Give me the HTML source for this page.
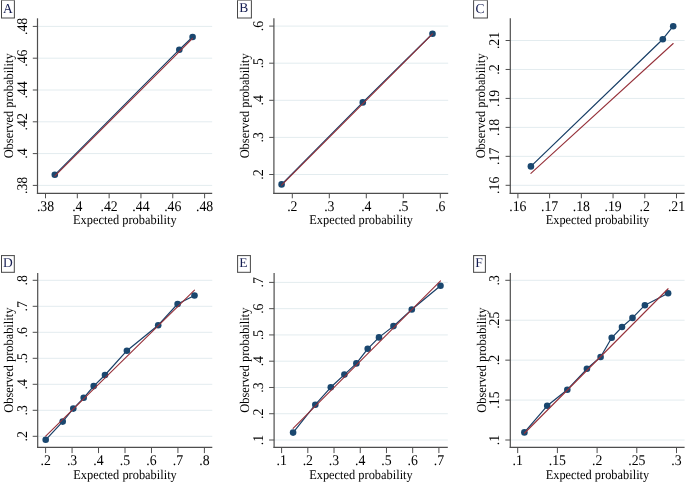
<!DOCTYPE html><html><head><meta charset="utf-8"><style>html,body{margin:0;padding:0;background:#fff;width:685px;height:482px;overflow:hidden}svg{display:block}text{font-family:"Liberation Serif",serif;fill:#000;text-rendering:geometricPrecision}svg{will-change:transform}</style></head><body>
<svg width="685" height="482" viewBox="0 0 685 482">
<rect width="685" height="482" fill="#fff"/>
<g><line x1="37.50" y1="185.40" x2="212.20" y2="185.40" stroke="#e3ecef" stroke-width="1"/><line x1="37.50" y1="153.60" x2="212.20" y2="153.60" stroke="#e3ecef" stroke-width="1"/><line x1="37.50" y1="121.80" x2="212.20" y2="121.80" stroke="#e3ecef" stroke-width="1"/><line x1="37.50" y1="90.00" x2="212.20" y2="90.00" stroke="#e3ecef" stroke-width="1"/><line x1="37.50" y1="58.20" x2="212.20" y2="58.20" stroke="#e3ecef" stroke-width="1"/><line x1="37.50" y1="26.40" x2="212.20" y2="26.40" stroke="#e3ecef" stroke-width="1"/><polyline points="54.80,174.80 179.30,49.70 192.60,37.00" fill="none" stroke="#173e66" stroke-width="1.2" stroke-linejoin="round"/><circle cx="54.80" cy="174.80" r="3.3" fill="#1a476f"/><circle cx="179.30" cy="49.70" r="3.3" fill="#1a476f"/><circle cx="192.60" cy="37.00" r="3.3" fill="#1a476f"/><line x1="54.80" y1="176.11" x2="192.60" y2="38.39" stroke="#96313a" stroke-width="1.1" stroke-linecap="round"/><line x1="37.50" y1="18.30" x2="37.50" y2="194.00" stroke="#4e4e4e" stroke-width="1.2"/><line x1="36.90" y1="193.40" x2="212.20" y2="193.40" stroke="#4e4e4e" stroke-width="1.2"/><line x1="32.80" y1="185.40" x2="37.50" y2="185.40" stroke="#4e4e4e" stroke-width="1"/><text transform="translate(26.50 185.40) rotate(-90) scale(0.932 1)" text-anchor="middle" font-size="14.8">.38</text><line x1="32.80" y1="153.60" x2="37.50" y2="153.60" stroke="#4e4e4e" stroke-width="1"/><text transform="translate(26.50 153.60) rotate(-90) scale(0.932 1)" text-anchor="middle" font-size="14.8">.4</text><line x1="32.80" y1="121.80" x2="37.50" y2="121.80" stroke="#4e4e4e" stroke-width="1"/><text transform="translate(26.50 121.80) rotate(-90) scale(0.932 1)" text-anchor="middle" font-size="14.8">.42</text><line x1="32.80" y1="90.00" x2="37.50" y2="90.00" stroke="#4e4e4e" stroke-width="1"/><text transform="translate(26.50 90.00) rotate(-90) scale(0.932 1)" text-anchor="middle" font-size="14.8">.44</text><line x1="32.80" y1="58.20" x2="37.50" y2="58.20" stroke="#4e4e4e" stroke-width="1"/><text transform="translate(26.50 58.20) rotate(-90) scale(0.932 1)" text-anchor="middle" font-size="14.8">.46</text><line x1="32.80" y1="26.40" x2="37.50" y2="26.40" stroke="#4e4e4e" stroke-width="1"/><text transform="translate(26.50 26.40) rotate(-90) scale(0.932 1)" text-anchor="middle" font-size="14.8">.48</text><line x1="45.50" y1="193.40" x2="45.50" y2="198.30" stroke="#4e4e4e" stroke-width="1"/><text transform="translate(45.50 210.50) scale(0.932 1)" text-anchor="middle" font-size="14.8">.38</text><line x1="77.32" y1="193.40" x2="77.32" y2="198.30" stroke="#4e4e4e" stroke-width="1"/><text transform="translate(77.32 210.50) scale(0.932 1)" text-anchor="middle" font-size="14.8">.4</text><line x1="109.14" y1="193.40" x2="109.14" y2="198.30" stroke="#4e4e4e" stroke-width="1"/><text transform="translate(109.14 210.50) scale(0.932 1)" text-anchor="middle" font-size="14.8">.42</text><line x1="140.96" y1="193.40" x2="140.96" y2="198.30" stroke="#4e4e4e" stroke-width="1"/><text transform="translate(140.96 210.50) scale(0.932 1)" text-anchor="middle" font-size="14.8">.44</text><line x1="172.78" y1="193.40" x2="172.78" y2="198.30" stroke="#4e4e4e" stroke-width="1"/><text transform="translate(172.78 210.50) scale(0.932 1)" text-anchor="middle" font-size="14.8">.46</text><line x1="204.60" y1="193.40" x2="204.60" y2="198.30" stroke="#4e4e4e" stroke-width="1"/><text transform="translate(204.60 210.50) scale(0.932 1)" text-anchor="middle" font-size="14.8">.48</text><text transform="translate(124.85 224.40) scale(0.932 1)" text-anchor="middle" font-size="13.3">Expected probability</text><text transform="translate(12.60 105.85) rotate(-90) scale(0.932 1)" text-anchor="middle" font-size="13.3">Observed probability</text><line x1="1.00" y1="0.50" x2="14.90" y2="0.50" stroke="#9a9a9a" stroke-width="1"/><line x1="1.00" y1="18.00" x2="14.90" y2="18.00" stroke="#474747" stroke-width="1"/><line x1="1.50" y1="0.50" x2="1.50" y2="18.00" stroke="#474747" stroke-width="1"/><line x1="14.40" y1="0.50" x2="14.40" y2="18.00" stroke="#474747" stroke-width="1"/><text x="7.95" y="12.60" text-anchor="middle" font-size="13.5" style="fill:#161e52">A</text></g>
<g><line x1="273.90" y1="174.50" x2="448.20" y2="174.50" stroke="#e3ecef" stroke-width="1"/><line x1="273.90" y1="137.40" x2="448.20" y2="137.40" stroke="#e3ecef" stroke-width="1"/><line x1="273.90" y1="100.30" x2="448.20" y2="100.30" stroke="#e3ecef" stroke-width="1"/><line x1="273.90" y1="63.20" x2="448.20" y2="63.20" stroke="#e3ecef" stroke-width="1"/><line x1="273.90" y1="26.10" x2="448.20" y2="26.10" stroke="#e3ecef" stroke-width="1"/><polyline points="281.60,184.40 362.80,102.40 432.50,33.70" fill="none" stroke="#173e66" stroke-width="1.2" stroke-linejoin="round"/><circle cx="281.60" cy="184.40" r="3.3" fill="#1a476f"/><circle cx="362.80" cy="102.40" r="3.3" fill="#1a476f"/><circle cx="432.50" cy="33.70" r="3.3" fill="#1a476f"/><line x1="281.60" y1="185.23" x2="432.50" y2="33.92" stroke="#96313a" stroke-width="1.1" stroke-linecap="round"/><line x1="273.90" y1="18.30" x2="273.90" y2="194.00" stroke="#4e4e4e" stroke-width="1.2"/><line x1="273.30" y1="193.40" x2="448.20" y2="193.40" stroke="#4e4e4e" stroke-width="1.2"/><line x1="269.20" y1="174.50" x2="273.90" y2="174.50" stroke="#4e4e4e" stroke-width="1"/><text transform="translate(262.90 174.50) rotate(-90) scale(0.932 1)" text-anchor="middle" font-size="14.8">.2</text><line x1="269.20" y1="137.40" x2="273.90" y2="137.40" stroke="#4e4e4e" stroke-width="1"/><text transform="translate(262.90 137.40) rotate(-90) scale(0.932 1)" text-anchor="middle" font-size="14.8">.3</text><line x1="269.20" y1="100.30" x2="273.90" y2="100.30" stroke="#4e4e4e" stroke-width="1"/><text transform="translate(262.90 100.30) rotate(-90) scale(0.932 1)" text-anchor="middle" font-size="14.8">.4</text><line x1="269.20" y1="63.20" x2="273.90" y2="63.20" stroke="#4e4e4e" stroke-width="1"/><text transform="translate(262.90 63.20) rotate(-90) scale(0.932 1)" text-anchor="middle" font-size="14.8">.5</text><line x1="269.20" y1="26.10" x2="273.90" y2="26.10" stroke="#4e4e4e" stroke-width="1"/><text transform="translate(262.90 26.10) rotate(-90) scale(0.932 1)" text-anchor="middle" font-size="14.8">.6</text><line x1="292.30" y1="193.40" x2="292.30" y2="198.30" stroke="#4e4e4e" stroke-width="1"/><text transform="translate(292.30 210.50) scale(0.932 1)" text-anchor="middle" font-size="14.8">.2</text><line x1="329.30" y1="193.40" x2="329.30" y2="198.30" stroke="#4e4e4e" stroke-width="1"/><text transform="translate(329.30 210.50) scale(0.932 1)" text-anchor="middle" font-size="14.8">.3</text><line x1="366.30" y1="193.40" x2="366.30" y2="198.30" stroke="#4e4e4e" stroke-width="1"/><text transform="translate(366.30 210.50) scale(0.932 1)" text-anchor="middle" font-size="14.8">.4</text><line x1="403.30" y1="193.40" x2="403.30" y2="198.30" stroke="#4e4e4e" stroke-width="1"/><text transform="translate(403.30 210.50) scale(0.932 1)" text-anchor="middle" font-size="14.8">.5</text><line x1="440.30" y1="193.40" x2="440.30" y2="198.30" stroke="#4e4e4e" stroke-width="1"/><text transform="translate(440.30 210.50) scale(0.932 1)" text-anchor="middle" font-size="14.8">.6</text><text transform="translate(361.05 224.40) scale(0.932 1)" text-anchor="middle" font-size="13.3">Expected probability</text><text transform="translate(249.00 105.85) rotate(-90) scale(0.932 1)" text-anchor="middle" font-size="13.3">Observed probability</text><line x1="237.00" y1="0.50" x2="251.90" y2="0.50" stroke="#9a9a9a" stroke-width="1"/><line x1="237.00" y1="18.00" x2="251.90" y2="18.00" stroke="#474747" stroke-width="1"/><line x1="237.50" y1="0.50" x2="237.50" y2="18.00" stroke="#474747" stroke-width="1"/><line x1="251.40" y1="0.50" x2="251.40" y2="18.00" stroke="#474747" stroke-width="1"/><text x="243.85" y="12.20" text-anchor="middle" font-size="13.5" style="fill:#161e52">B</text></g>
<g><line x1="510.30" y1="185.30" x2="684.60" y2="185.30" stroke="#e3ecef" stroke-width="1"/><line x1="510.30" y1="156.34" x2="684.60" y2="156.34" stroke="#e3ecef" stroke-width="1"/><line x1="510.30" y1="127.38" x2="684.60" y2="127.38" stroke="#e3ecef" stroke-width="1"/><line x1="510.30" y1="98.42" x2="684.60" y2="98.42" stroke="#e3ecef" stroke-width="1"/><line x1="510.30" y1="69.46" x2="684.60" y2="69.46" stroke="#e3ecef" stroke-width="1"/><line x1="510.30" y1="40.50" x2="684.60" y2="40.50" stroke="#e3ecef" stroke-width="1"/><polyline points="530.90,166.40 662.80,39.20 673.20,26.20" fill="none" stroke="#173e66" stroke-width="1.2" stroke-linejoin="round"/><circle cx="530.90" cy="166.40" r="3.3" fill="#1a476f"/><circle cx="662.80" cy="39.20" r="3.3" fill="#1a476f"/><circle cx="673.20" cy="26.20" r="3.3" fill="#1a476f"/><line x1="530.90" y1="173.43" x2="673.20" y2="43.51" stroke="#96313a" stroke-width="1.1" stroke-linecap="round"/><line x1="510.30" y1="18.30" x2="510.30" y2="194.00" stroke="#4e4e4e" stroke-width="1.2"/><line x1="509.70" y1="193.40" x2="684.60" y2="193.40" stroke="#4e4e4e" stroke-width="1.2"/><line x1="505.60" y1="185.30" x2="510.30" y2="185.30" stroke="#4e4e4e" stroke-width="1"/><text transform="translate(499.30 185.30) rotate(-90) scale(0.932 1)" text-anchor="middle" font-size="14.8">.16</text><line x1="505.60" y1="156.34" x2="510.30" y2="156.34" stroke="#4e4e4e" stroke-width="1"/><text transform="translate(499.30 156.34) rotate(-90) scale(0.932 1)" text-anchor="middle" font-size="14.8">.17</text><line x1="505.60" y1="127.38" x2="510.30" y2="127.38" stroke="#4e4e4e" stroke-width="1"/><text transform="translate(499.30 127.38) rotate(-90) scale(0.932 1)" text-anchor="middle" font-size="14.8">.18</text><line x1="505.60" y1="98.42" x2="510.30" y2="98.42" stroke="#4e4e4e" stroke-width="1"/><text transform="translate(499.30 98.42) rotate(-90) scale(0.932 1)" text-anchor="middle" font-size="14.8">.19</text><line x1="505.60" y1="69.46" x2="510.30" y2="69.46" stroke="#4e4e4e" stroke-width="1"/><text transform="translate(499.30 69.46) rotate(-90) scale(0.932 1)" text-anchor="middle" font-size="14.8">.2</text><line x1="505.60" y1="40.50" x2="510.30" y2="40.50" stroke="#4e4e4e" stroke-width="1"/><text transform="translate(499.30 40.50) rotate(-90) scale(0.932 1)" text-anchor="middle" font-size="14.8">.21</text><line x1="517.90" y1="193.40" x2="517.90" y2="198.30" stroke="#4e4e4e" stroke-width="1"/><text transform="translate(517.90 210.50) scale(0.932 1)" text-anchor="middle" font-size="14.8">.16</text><line x1="549.62" y1="193.40" x2="549.62" y2="198.30" stroke="#4e4e4e" stroke-width="1"/><text transform="translate(549.62 210.50) scale(0.932 1)" text-anchor="middle" font-size="14.8">.17</text><line x1="581.34" y1="193.40" x2="581.34" y2="198.30" stroke="#4e4e4e" stroke-width="1"/><text transform="translate(581.34 210.50) scale(0.932 1)" text-anchor="middle" font-size="14.8">.18</text><line x1="613.06" y1="193.40" x2="613.06" y2="198.30" stroke="#4e4e4e" stroke-width="1"/><text transform="translate(613.06 210.50) scale(0.932 1)" text-anchor="middle" font-size="14.8">.19</text><line x1="644.78" y1="193.40" x2="644.78" y2="198.30" stroke="#4e4e4e" stroke-width="1"/><text transform="translate(644.78 210.50) scale(0.932 1)" text-anchor="middle" font-size="14.8">.2</text><line x1="676.50" y1="193.40" x2="676.50" y2="198.30" stroke="#4e4e4e" stroke-width="1"/><text transform="translate(676.50 210.50) scale(0.932 1)" text-anchor="middle" font-size="14.8">.21</text><text transform="translate(597.45 224.40) scale(0.932 1)" text-anchor="middle" font-size="13.3">Expected probability</text><text transform="translate(485.40 105.85) rotate(-90) scale(0.932 1)" text-anchor="middle" font-size="13.3">Observed probability</text><line x1="473.10" y1="0.50" x2="487.90" y2="0.50" stroke="#9a9a9a" stroke-width="1"/><line x1="473.10" y1="18.00" x2="487.90" y2="18.00" stroke="#474747" stroke-width="1"/><line x1="473.60" y1="0.50" x2="473.60" y2="18.00" stroke="#474747" stroke-width="1"/><line x1="487.40" y1="0.50" x2="487.40" y2="18.00" stroke="#474747" stroke-width="1"/><text x="479.90" y="12.70" text-anchor="middle" font-size="13.5" style="fill:#161e52">C</text></g>
<g><line x1="37.70" y1="436.30" x2="212.30" y2="436.30" stroke="#e3ecef" stroke-width="1"/><line x1="37.70" y1="410.30" x2="212.30" y2="410.30" stroke="#e3ecef" stroke-width="1"/><line x1="37.70" y1="384.30" x2="212.30" y2="384.30" stroke="#e3ecef" stroke-width="1"/><line x1="37.70" y1="358.30" x2="212.30" y2="358.30" stroke="#e3ecef" stroke-width="1"/><line x1="37.70" y1="332.30" x2="212.30" y2="332.30" stroke="#e3ecef" stroke-width="1"/><line x1="37.70" y1="306.30" x2="212.30" y2="306.30" stroke="#e3ecef" stroke-width="1"/><line x1="37.70" y1="280.30" x2="212.30" y2="280.30" stroke="#e3ecef" stroke-width="1"/><polyline points="45.70,439.80 62.70,421.60 73.30,408.60 83.70,397.80 93.70,386.10 105.00,375.00 126.90,350.70 158.20,325.20 177.60,304.00 194.50,295.50" fill="none" stroke="#173e66" stroke-width="1.2" stroke-linejoin="round"/><circle cx="45.70" cy="439.80" r="3.3" fill="#1a476f"/><circle cx="62.70" cy="421.60" r="3.3" fill="#1a476f"/><circle cx="73.30" cy="408.60" r="3.3" fill="#1a476f"/><circle cx="83.70" cy="397.80" r="3.3" fill="#1a476f"/><circle cx="93.70" cy="386.10" r="3.3" fill="#1a476f"/><circle cx="105.00" cy="375.00" r="3.3" fill="#1a476f"/><circle cx="126.90" cy="350.70" r="3.3" fill="#1a476f"/><circle cx="158.20" cy="325.20" r="3.3" fill="#1a476f"/><circle cx="177.60" cy="304.00" r="3.3" fill="#1a476f"/><circle cx="194.50" cy="295.50" r="3.3" fill="#1a476f"/><line x1="45.70" y1="436.20" x2="194.50" y2="290.03" stroke="#96313a" stroke-width="1.1" stroke-linecap="round"/><line x1="37.70" y1="273.00" x2="37.70" y2="447.90" stroke="#4e4e4e" stroke-width="1.2"/><line x1="37.10" y1="447.30" x2="212.30" y2="447.30" stroke="#4e4e4e" stroke-width="1.2"/><line x1="32.70" y1="436.30" x2="37.70" y2="436.30" stroke="#4e4e4e" stroke-width="1"/><text transform="translate(26.70 436.30) rotate(-90) scale(0.932 1)" text-anchor="middle" font-size="14.8">.2</text><line x1="32.70" y1="410.30" x2="37.70" y2="410.30" stroke="#4e4e4e" stroke-width="1"/><text transform="translate(26.70 410.30) rotate(-90) scale(0.932 1)" text-anchor="middle" font-size="14.8">.3</text><line x1="32.70" y1="384.30" x2="37.70" y2="384.30" stroke="#4e4e4e" stroke-width="1"/><text transform="translate(26.70 384.30) rotate(-90) scale(0.932 1)" text-anchor="middle" font-size="14.8">.4</text><line x1="32.70" y1="358.30" x2="37.70" y2="358.30" stroke="#4e4e4e" stroke-width="1"/><text transform="translate(26.70 358.30) rotate(-90) scale(0.932 1)" text-anchor="middle" font-size="14.8">.5</text><line x1="32.70" y1="332.30" x2="37.70" y2="332.30" stroke="#4e4e4e" stroke-width="1"/><text transform="translate(26.70 332.30) rotate(-90) scale(0.932 1)" text-anchor="middle" font-size="14.8">.6</text><line x1="32.70" y1="306.30" x2="37.70" y2="306.30" stroke="#4e4e4e" stroke-width="1"/><text transform="translate(26.70 306.30) rotate(-90) scale(0.932 1)" text-anchor="middle" font-size="14.8">.7</text><line x1="32.70" y1="280.30" x2="37.70" y2="280.30" stroke="#4e4e4e" stroke-width="1"/><text transform="translate(26.70 280.30) rotate(-90) scale(0.932 1)" text-anchor="middle" font-size="14.8">.8</text><line x1="45.60" y1="447.30" x2="45.60" y2="453.10" stroke="#4e4e4e" stroke-width="1"/><text transform="translate(45.60 465.20) scale(0.932 1)" text-anchor="middle" font-size="14.8">.2</text><line x1="72.07" y1="447.30" x2="72.07" y2="453.10" stroke="#4e4e4e" stroke-width="1"/><text transform="translate(72.07 465.20) scale(0.932 1)" text-anchor="middle" font-size="14.8">.3</text><line x1="98.53" y1="447.30" x2="98.53" y2="453.10" stroke="#4e4e4e" stroke-width="1"/><text transform="translate(98.53 465.20) scale(0.932 1)" text-anchor="middle" font-size="14.8">.4</text><line x1="125.00" y1="447.30" x2="125.00" y2="453.10" stroke="#4e4e4e" stroke-width="1"/><text transform="translate(125.00 465.20) scale(0.932 1)" text-anchor="middle" font-size="14.8">.5</text><line x1="151.47" y1="447.30" x2="151.47" y2="453.10" stroke="#4e4e4e" stroke-width="1"/><text transform="translate(151.47 465.20) scale(0.932 1)" text-anchor="middle" font-size="14.8">.6</text><line x1="177.93" y1="447.30" x2="177.93" y2="453.10" stroke="#4e4e4e" stroke-width="1"/><text transform="translate(177.93 465.20) scale(0.932 1)" text-anchor="middle" font-size="14.8">.7</text><line x1="204.40" y1="447.30" x2="204.40" y2="453.10" stroke="#4e4e4e" stroke-width="1"/><text transform="translate(204.40 465.20) scale(0.932 1)" text-anchor="middle" font-size="14.8">.8</text><text transform="translate(125.00 478.80) scale(0.932 1)" text-anchor="middle" font-size="13.3">Expected probability</text><text transform="translate(12.90 360.15) rotate(-90) scale(0.932 1)" text-anchor="middle" font-size="13.3">Observed probability</text><line x1="1.00" y1="255.60" x2="14.80" y2="255.60" stroke="#474747" stroke-width="1"/><line x1="1.00" y1="272.30" x2="14.80" y2="272.30" stroke="#474747" stroke-width="1"/><line x1="1.50" y1="255.60" x2="1.50" y2="272.30" stroke="#474747" stroke-width="1"/><line x1="14.30" y1="255.60" x2="14.30" y2="272.30" stroke="#474747" stroke-width="1"/><text x="7.90" y="266.60" text-anchor="middle" font-size="13.5" style="fill:#161e52">D</text></g>
<g><line x1="274.10" y1="440.00" x2="447.80" y2="440.00" stroke="#e3ecef" stroke-width="1"/><line x1="274.10" y1="413.73" x2="447.80" y2="413.73" stroke="#e3ecef" stroke-width="1"/><line x1="274.10" y1="387.47" x2="447.80" y2="387.47" stroke="#e3ecef" stroke-width="1"/><line x1="274.10" y1="361.20" x2="447.80" y2="361.20" stroke="#e3ecef" stroke-width="1"/><line x1="274.10" y1="334.93" x2="447.80" y2="334.93" stroke="#e3ecef" stroke-width="1"/><line x1="274.10" y1="308.67" x2="447.80" y2="308.67" stroke="#e3ecef" stroke-width="1"/><line x1="274.10" y1="282.40" x2="447.80" y2="282.40" stroke="#e3ecef" stroke-width="1"/><polyline points="293.10,432.60 315.30,404.70 330.80,387.30 344.40,374.60 356.40,363.40 367.70,348.80 379.00,337.40 393.50,326.10 411.80,309.50 440.50,285.80" fill="none" stroke="#173e66" stroke-width="1.2" stroke-linejoin="round"/><circle cx="293.10" cy="432.60" r="3.3" fill="#1a476f"/><circle cx="315.30" cy="404.70" r="3.3" fill="#1a476f"/><circle cx="330.80" cy="387.30" r="3.3" fill="#1a476f"/><circle cx="344.40" cy="374.60" r="3.3" fill="#1a476f"/><circle cx="356.40" cy="363.40" r="3.3" fill="#1a476f"/><circle cx="367.70" cy="348.80" r="3.3" fill="#1a476f"/><circle cx="379.00" cy="337.40" r="3.3" fill="#1a476f"/><circle cx="393.50" cy="326.10" r="3.3" fill="#1a476f"/><circle cx="411.80" cy="309.50" r="3.3" fill="#1a476f"/><circle cx="440.50" cy="285.80" r="3.3" fill="#1a476f"/><line x1="293.10" y1="428.48" x2="440.50" y2="280.80" stroke="#96313a" stroke-width="1.1" stroke-linecap="round"/><line x1="274.10" y1="273.00" x2="274.10" y2="447.90" stroke="#4e4e4e" stroke-width="1.2"/><line x1="273.50" y1="447.30" x2="447.80" y2="447.30" stroke="#4e4e4e" stroke-width="1.2"/><line x1="269.10" y1="440.00" x2="274.10" y2="440.00" stroke="#4e4e4e" stroke-width="1"/><text transform="translate(263.10 440.00) rotate(-90) scale(0.932 1)" text-anchor="middle" font-size="14.8">.1</text><line x1="269.10" y1="413.73" x2="274.10" y2="413.73" stroke="#4e4e4e" stroke-width="1"/><text transform="translate(263.10 413.73) rotate(-90) scale(0.932 1)" text-anchor="middle" font-size="14.8">.2</text><line x1="269.10" y1="387.47" x2="274.10" y2="387.47" stroke="#4e4e4e" stroke-width="1"/><text transform="translate(263.10 387.47) rotate(-90) scale(0.932 1)" text-anchor="middle" font-size="14.8">.3</text><line x1="269.10" y1="361.20" x2="274.10" y2="361.20" stroke="#4e4e4e" stroke-width="1"/><text transform="translate(263.10 361.20) rotate(-90) scale(0.932 1)" text-anchor="middle" font-size="14.8">.4</text><line x1="269.10" y1="334.93" x2="274.10" y2="334.93" stroke="#4e4e4e" stroke-width="1"/><text transform="translate(263.10 334.93) rotate(-90) scale(0.932 1)" text-anchor="middle" font-size="14.8">.5</text><line x1="269.10" y1="308.67" x2="274.10" y2="308.67" stroke="#4e4e4e" stroke-width="1"/><text transform="translate(263.10 308.67) rotate(-90) scale(0.932 1)" text-anchor="middle" font-size="14.8">.6</text><line x1="269.10" y1="282.40" x2="274.10" y2="282.40" stroke="#4e4e4e" stroke-width="1"/><text transform="translate(263.10 282.40) rotate(-90) scale(0.932 1)" text-anchor="middle" font-size="14.8">.7</text><line x1="281.60" y1="447.30" x2="281.60" y2="453.10" stroke="#4e4e4e" stroke-width="1"/><text transform="translate(281.60 465.20) scale(0.932 1)" text-anchor="middle" font-size="14.8">.1</text><line x1="307.82" y1="447.30" x2="307.82" y2="453.10" stroke="#4e4e4e" stroke-width="1"/><text transform="translate(307.82 465.20) scale(0.932 1)" text-anchor="middle" font-size="14.8">.2</text><line x1="334.03" y1="447.30" x2="334.03" y2="453.10" stroke="#4e4e4e" stroke-width="1"/><text transform="translate(334.03 465.20) scale(0.932 1)" text-anchor="middle" font-size="14.8">.3</text><line x1="360.25" y1="447.30" x2="360.25" y2="453.10" stroke="#4e4e4e" stroke-width="1"/><text transform="translate(360.25 465.20) scale(0.932 1)" text-anchor="middle" font-size="14.8">.4</text><line x1="386.47" y1="447.30" x2="386.47" y2="453.10" stroke="#4e4e4e" stroke-width="1"/><text transform="translate(386.47 465.20) scale(0.932 1)" text-anchor="middle" font-size="14.8">.5</text><line x1="412.68" y1="447.30" x2="412.68" y2="453.10" stroke="#4e4e4e" stroke-width="1"/><text transform="translate(412.68 465.20) scale(0.932 1)" text-anchor="middle" font-size="14.8">.6</text><line x1="438.90" y1="447.30" x2="438.90" y2="453.10" stroke="#4e4e4e" stroke-width="1"/><text transform="translate(438.90 465.20) scale(0.932 1)" text-anchor="middle" font-size="14.8">.7</text><text transform="translate(360.95 478.80) scale(0.932 1)" text-anchor="middle" font-size="13.3">Expected probability</text><text transform="translate(249.30 360.15) rotate(-90) scale(0.932 1)" text-anchor="middle" font-size="13.3">Observed probability</text><line x1="237.10" y1="255.60" x2="250.90" y2="255.60" stroke="#474747" stroke-width="1"/><line x1="237.10" y1="272.30" x2="250.90" y2="272.30" stroke="#474747" stroke-width="1"/><line x1="237.60" y1="255.60" x2="237.60" y2="272.30" stroke="#474747" stroke-width="1"/><line x1="250.40" y1="255.60" x2="250.40" y2="272.30" stroke="#474747" stroke-width="1"/><text x="243.30" y="266.50" text-anchor="middle" font-size="13.5" style="fill:#161e52">E</text></g>
<g><line x1="510.30" y1="440.00" x2="684.60" y2="440.00" stroke="#e3ecef" stroke-width="1"/><line x1="510.30" y1="400.07" x2="684.60" y2="400.07" stroke="#e3ecef" stroke-width="1"/><line x1="510.30" y1="360.15" x2="684.60" y2="360.15" stroke="#e3ecef" stroke-width="1"/><line x1="510.30" y1="320.23" x2="684.60" y2="320.23" stroke="#e3ecef" stroke-width="1"/><line x1="510.30" y1="280.30" x2="684.60" y2="280.30" stroke="#e3ecef" stroke-width="1"/><polyline points="524.40,432.40 547.20,405.80 567.30,389.70 586.90,368.80 600.60,357.00 611.70,337.80 622.00,327.00 632.50,317.90 644.90,305.20 668.10,293.20" fill="none" stroke="#173e66" stroke-width="1.2" stroke-linejoin="round"/><circle cx="524.40" cy="432.40" r="3.3" fill="#1a476f"/><circle cx="547.20" cy="405.80" r="3.3" fill="#1a476f"/><circle cx="567.30" cy="389.70" r="3.3" fill="#1a476f"/><circle cx="586.90" cy="368.80" r="3.3" fill="#1a476f"/><circle cx="600.60" cy="357.00" r="3.3" fill="#1a476f"/><circle cx="611.70" cy="337.80" r="3.3" fill="#1a476f"/><circle cx="622.00" cy="327.00" r="3.3" fill="#1a476f"/><circle cx="632.50" cy="317.90" r="3.3" fill="#1a476f"/><circle cx="644.90" cy="305.20" r="3.3" fill="#1a476f"/><circle cx="668.10" cy="293.20" r="3.3" fill="#1a476f"/><line x1="524.40" y1="433.26" x2="668.10" y2="288.75" stroke="#96313a" stroke-width="1.1" stroke-linecap="round"/><line x1="510.30" y1="273.00" x2="510.30" y2="447.90" stroke="#4e4e4e" stroke-width="1.2"/><line x1="509.70" y1="447.30" x2="684.60" y2="447.30" stroke="#4e4e4e" stroke-width="1.2"/><line x1="505.30" y1="440.00" x2="510.30" y2="440.00" stroke="#4e4e4e" stroke-width="1"/><text transform="translate(499.30 440.00) rotate(-90) scale(0.932 1)" text-anchor="middle" font-size="14.8">.1</text><line x1="505.30" y1="400.07" x2="510.30" y2="400.07" stroke="#4e4e4e" stroke-width="1"/><text transform="translate(499.30 400.07) rotate(-90) scale(0.932 1)" text-anchor="middle" font-size="14.8">.15</text><line x1="505.30" y1="360.15" x2="510.30" y2="360.15" stroke="#4e4e4e" stroke-width="1"/><text transform="translate(499.30 360.15) rotate(-90) scale(0.932 1)" text-anchor="middle" font-size="14.8">.2</text><line x1="505.30" y1="320.23" x2="510.30" y2="320.23" stroke="#4e4e4e" stroke-width="1"/><text transform="translate(499.30 320.23) rotate(-90) scale(0.932 1)" text-anchor="middle" font-size="14.8">.25</text><line x1="505.30" y1="280.30" x2="510.30" y2="280.30" stroke="#4e4e4e" stroke-width="1"/><text transform="translate(499.30 280.30) rotate(-90) scale(0.932 1)" text-anchor="middle" font-size="14.8">.3</text><line x1="517.70" y1="447.30" x2="517.70" y2="453.10" stroke="#4e4e4e" stroke-width="1"/><text transform="translate(517.70 465.20) scale(0.932 1)" text-anchor="middle" font-size="14.8">.1</text><line x1="557.40" y1="447.30" x2="557.40" y2="453.10" stroke="#4e4e4e" stroke-width="1"/><text transform="translate(557.40 465.20) scale(0.932 1)" text-anchor="middle" font-size="14.8">.15</text><line x1="597.10" y1="447.30" x2="597.10" y2="453.10" stroke="#4e4e4e" stroke-width="1"/><text transform="translate(597.10 465.20) scale(0.932 1)" text-anchor="middle" font-size="14.8">.2</text><line x1="636.80" y1="447.30" x2="636.80" y2="453.10" stroke="#4e4e4e" stroke-width="1"/><text transform="translate(636.80 465.20) scale(0.932 1)" text-anchor="middle" font-size="14.8">.25</text><line x1="676.50" y1="447.30" x2="676.50" y2="453.10" stroke="#4e4e4e" stroke-width="1"/><text transform="translate(676.50 465.20) scale(0.932 1)" text-anchor="middle" font-size="14.8">.3</text><text transform="translate(597.45 478.80) scale(0.932 1)" text-anchor="middle" font-size="13.3">Expected probability</text><text transform="translate(485.50 360.15) rotate(-90) scale(0.932 1)" text-anchor="middle" font-size="13.3">Observed probability</text><line x1="473.10" y1="255.60" x2="485.90" y2="255.60" stroke="#474747" stroke-width="1"/><line x1="473.10" y1="272.30" x2="485.90" y2="272.30" stroke="#474747" stroke-width="1"/><line x1="473.60" y1="255.60" x2="473.60" y2="272.30" stroke="#474747" stroke-width="1"/><line x1="485.40" y1="255.60" x2="485.40" y2="272.30" stroke="#474747" stroke-width="1"/><text x="479.10" y="266.50" text-anchor="middle" font-size="13.5" style="fill:#161e52">F</text></g>
</svg></body></html>
